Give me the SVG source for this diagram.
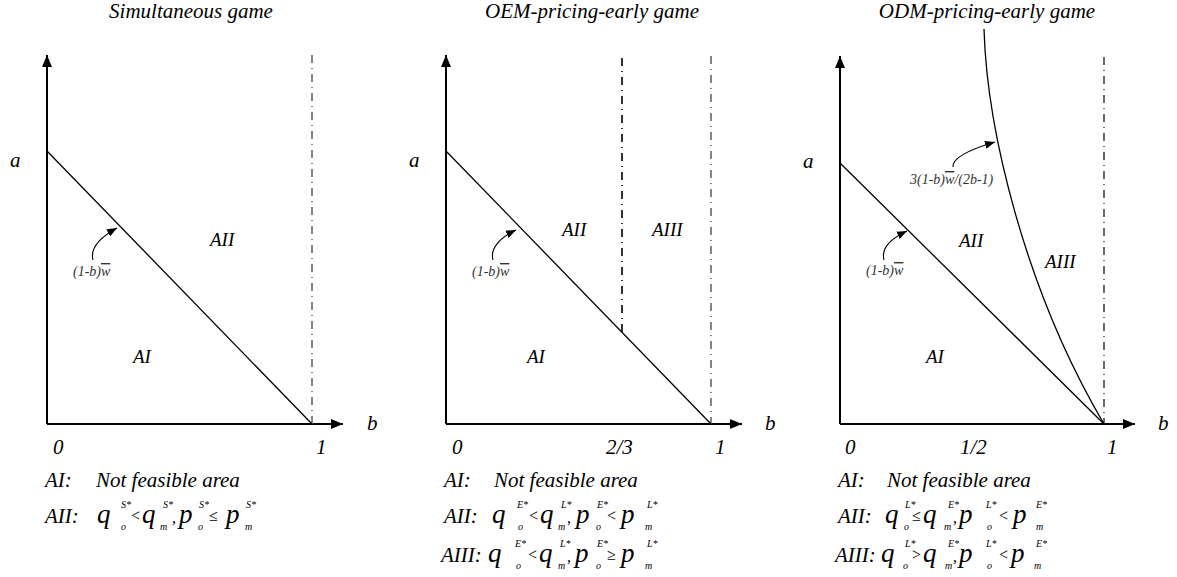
<svg xmlns="http://www.w3.org/2000/svg" width="1177" height="577" viewBox="0 0 1177 577">
<style>
.ax{stroke:#000;stroke-width:2;fill:none}
.ln{stroke:#000;stroke-width:1.3;fill:none}
.dd{stroke:#666;stroke-width:1.6;stroke-dasharray:8 5 1 5;fill:none}
.dk{stroke:#000;stroke-width:1.6;stroke-dasharray:8 5 1 5;fill:none}
.cv{stroke:#000;stroke-width:1.1;fill:none}
.ti{font-size:21px;text-anchor:middle}
.lb{font-size:21px}
.rg{font-size:19px}
.sm{font-size:14px;fill:#333}
.q{font-size:27px}
.sp{font-size:10px}
.op{font-size:16px;font-style:normal}
.ov{text-decoration:overline}
</style>
<defs>
<marker id="axh" markerWidth="12" markerHeight="10" refX="12" refY="5" orient="auto" markerUnits="userSpaceOnUse"><path d="M0,0 L12,5 L0,10 z" fill="#000"/></marker>
<marker id="sh" markerWidth="10" markerHeight="8" refX="10" refY="4" orient="auto" markerUnits="userSpaceOnUse"><path d="M0,0 L10,4 L0,8 z" fill="#000"/></marker>
</defs>
<g font-family="Liberation Serif, DejaVu Serif, serif" font-style="italic" fill="#000">
<!-- Panel 1 -->
<g id="panel1">
<text class="ti" x="191" y="18">Simultaneous game</text>
<line class="ax" x1="47" y1="424" x2="47" y2="55" marker-end="url(#axh)"/>
<line class="ax" x1="47" y1="424" x2="343" y2="424" marker-end="url(#axh)"/>
<line class="dd" x1="312" y1="55" x2="312" y2="424"/>
<text class="lb" x="10" y="167">a</text>
<text class="lb" x="367" y="430">b</text>
<text class="lb" x="53" y="454">0</text>
<text class="lb" x="316" y="454">1</text>
<text class="rg" x="210" y="246">AII</text>
<text class="rg" x="133" y="363">AI</text>
<text class="sm" x="73" y="276">(1-b)<tspan class="ov">w</tspan></text>
<text class="lb" x="45" y="487">AI:</text>
<text class="lb" x="96" y="487">Not feasible area</text>
<text class="lb" x="45" y="523">AII:</text>
<text class="q" x="97" y="523">q</text><text class="sp" x="121" y="508">S*</text><text class="sp" x="121" y="530">o</text>
<text class="op" x="131" y="521">&lt;</text>
<text class="q" x="142" y="523">q</text><text class="sp" x="163" y="508">S*</text><text class="sp" x="160" y="530">m</text>
<text class="op" x="172" y="523">,</text>
<text class="q" x="179" y="523">p</text><text class="sp" x="199" y="508">S*</text><text class="sp" x="198" y="530">o</text>
<text class="op" x="209" y="521">≤</text>
<text class="q" x="226" y="523">p</text><text class="sp" x="246" y="508">S*</text><text class="sp" x="245" y="530">m</text>
</g>

<!-- Panel 2 -->
<g id="panel2">
<text class="ti" x="592" y="18">OEM-pricing-early game</text>
<line class="ax" x1="446" y1="424" x2="446" y2="55" marker-end="url(#axh)"/>
<line class="ax" x1="446" y1="424" x2="742" y2="424" marker-end="url(#axh)"/>
<line class="dd" x1="711" y1="56" x2="711" y2="424"/>
<line class="dk" x1="622" y1="58" x2="622" y2="332"/>
<text class="lb" x="409" y="167">a</text>
<text class="lb" x="765" y="430">b</text>
<text class="lb" x="452" y="454">0</text>
<text class="lb" x="606" y="454">2/3</text>
<text class="lb" x="715" y="454">1</text>
<text class="rg" x="562" y="236">AII</text>
<text class="rg" x="652" y="236">AIII</text>
<text class="rg" x="527" y="363">AI</text>
<text class="sm" x="472" y="276">(1-b)<tspan class="ov">w</tspan></text>
<text class="lb" x="444" y="487">AI:</text>
<text class="lb" x="494" y="487">Not feasible area</text>
<text class="lb" x="444" y="523">AII:</text>
<text class="q" x="492" y="523">q</text><text class="sp" x="517" y="508">E*</text><text class="sp" x="518" y="530">o</text>
<text class="op" x="529" y="521">&lt;</text>
<text class="q" x="540" y="523">q</text><text class="sp" x="561" y="508">L*</text><text class="sp" x="558" y="530">m</text>
<text class="op" x="567" y="523">,</text>
<text class="q" x="576" y="523">p</text><text class="sp" x="597" y="508">E*</text><text class="sp" x="596" y="530">o</text>
<text class="op" x="607" y="521">&lt;</text>
<text class="q" x="621" y="523">p</text><text class="sp" x="647" y="508">L*</text><text class="sp" x="645" y="530">m</text>
<text class="lb" x="441" y="562">AIII:</text>
<text class="q" x="488" y="562">q</text><text class="sp" x="515" y="547">E*</text><text class="sp" x="516" y="569">o</text>
<text class="op" x="528" y="560">&lt;</text>
<text class="q" x="539" y="562">q</text><text class="sp" x="560" y="547">L*</text><text class="sp" x="558" y="569">m</text>
<text class="op" x="567" y="562">,</text>
<text class="q" x="575" y="562">p</text><text class="sp" x="597" y="547">E*</text><text class="sp" x="596" y="569">o</text>
<text class="op" x="607" y="560">≥</text>
<text class="q" x="621" y="562">p</text><text class="sp" x="647" y="547">L*</text><text class="sp" x="645" y="569">m</text>
</g>

<!-- Panel 3 -->
<g id="panel3">
<text class="ti" x="987" y="18">ODM-pricing-early game</text>
<line class="ax" x1="840" y1="424" x2="840" y2="56" marker-end="url(#axh)"/>
<line class="ax" x1="840" y1="424" x2="1135" y2="424" marker-end="url(#axh)"/>
<line class="dd" x1="1104" y1="57" x2="1104" y2="424" style="stroke:#444"/>
<text class="lb" x="803" y="168">a</text>
<text class="lb" x="1158" y="430">b</text>
<text class="lb" x="845" y="454">0</text>
<text class="lb" x="960" y="454">1/2</text>
<text class="lb" x="1107" y="454">1</text>
<text class="rg" x="959" y="247">AII</text>
<text class="rg" x="1045" y="268">AIII</text>
<text class="rg" x="926" y="363">AI</text>
<text class="sm" x="866" y="275">(1-b)<tspan class="ov">w</tspan></text>
<text class="sm" x="910" y="184">3(1-b)<tspan class="ov">w</tspan>/(2b-1)</text>
<text class="lb" x="838" y="487">AI:</text>
<text class="lb" x="887" y="487">Not feasible area</text>
<text class="lb" x="838" y="523">AII:</text>
<text class="q" x="885" y="523">q</text><text class="sp" x="905" y="508">L*</text><text class="sp" x="904" y="530">o</text>
<text class="op" x="912" y="521">≤</text>
<text class="q" x="923" y="523">q</text><text class="sp" x="948" y="508">E*</text><text class="sp" x="944" y="530">m</text>
<text class="op" x="953" y="523">,</text>
<text class="q" x="959" y="523">p</text><text class="sp" x="986" y="508">L*</text><text class="sp" x="987" y="530">o</text>
<text class="op" x="999" y="521">&lt;</text>
<text class="q" x="1013" y="523">p</text><text class="sp" x="1036" y="508">E*</text><text class="sp" x="1036" y="530">m</text>
<text class="lb" x="835" y="562">AIII:</text>
<text class="q" x="881" y="562">q</text><text class="sp" x="905" y="547">L*</text><text class="sp" x="903" y="569">o</text>
<text class="op" x="912" y="560">&gt;</text>
<text class="q" x="923" y="562">q</text><text class="sp" x="948" y="547">E*</text><text class="sp" x="945" y="569">m</text>
<text class="op" x="953" y="562">,</text>
<text class="q" x="959" y="562">p</text><text class="sp" x="986" y="547">L*</text><text class="sp" x="987" y="569">o</text>
<text class="op" x="999" y="560">&lt;</text>
<text class="q" x="1011" y="562">p</text><text class="sp" x="1036" y="547">E*</text><text class="sp" x="1034" y="569">m</text>
</g>
</g>
<!-- Connectors / boundary curves -->
<g id="connectors">
<line class="ln" x1="47" y1="151" x2="312" y2="424"/>
<line class="ln" x1="446" y1="151" x2="711" y2="424"/>
<line class="ln" x1="840" y1="163" x2="1104" y2="424"/>
<path class="ln" d="M984,29 C987,130 1025,290 1104,424"/>
<path class="cv" d="M93,260 C90,249 99,238 117,228" marker-end="url(#sh)"/>
<path class="cv" d="M493,260 C490,249 499,238 516,230" marker-end="url(#sh)"/>
<path class="cv" d="M884,260 C881,249 890,239 907,231" marker-end="url(#sh)"/>
<path class="cv" d="M953,167 C952,158 968,150 995,142" marker-end="url(#sh)"/>
</g>
</svg>
